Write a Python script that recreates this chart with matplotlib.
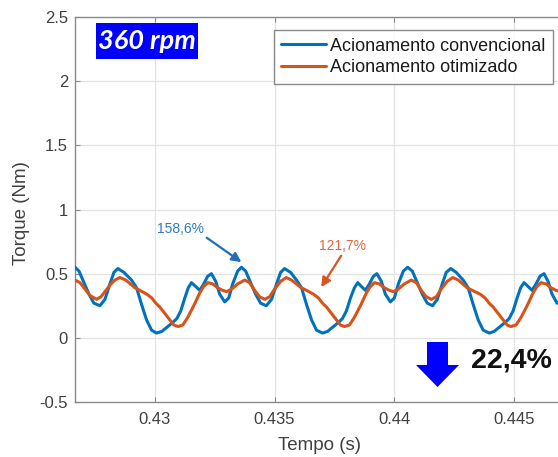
import matplotlib
matplotlib.use("Agg")
import matplotlib.pyplot as plt
from matplotlib.patches import Rectangle, Polygon
from matplotlib.ticker import FixedLocator, FuncFormatter

plt.rcParams['font.family'] = ['Liberation Sans', 'DejaVu Sans']
plt.rcParams['axes.unicode_minus'] = False

# ---------------- data ----------------
t_conv = [0.426667, 0.426833, 0.427042, 0.42725, 0.427458, 0.427708, 0.427917, 0.428125,
          0.428292, 0.428458, 0.428708, 0.429029, 0.429238, 0.429446, 0.429654, 0.429863,
          0.430071, 0.430292, 0.430542, 0.43075, 0.430917, 0.431083, 0.43125, 0.431396,
          0.431529, 0.431708, 0.431875, 0.432042, 0.432208, 0.432363, 0.432542, 0.432708,
          0.432917, 0.433083, 0.43325, 0.433458, 0.433613, 0.433792, 0.434, 0.434208,
          0.434417, 0.434654, 0.434875, 0.435083, 0.43525, 0.435417, 0.435667, 0.435917,
          0.436125, 0.436333, 0.436542, 0.43675, 0.437, 0.437208, 0.437458, 0.437667,
          0.437833, 0.438, 0.438167, 0.438333, 0.438471, 0.438625, 0.438792, 0.438958,
          0.439125, 0.439271, 0.439458, 0.439625, 0.439833, 0.44, 0.440167, 0.440375,
          0.440554, 0.44075, 0.440958, 0.441167, 0.441375, 0.441596, 0.441792, 0.442,
          0.442167, 0.442354, 0.442583, 0.442875, 0.443083, 0.443292, 0.4435, 0.443708,
          0.443958, 0.444167, 0.444417, 0.444625, 0.444792, 0.444958, 0.445125, 0.445271,
          0.445417, 0.445583, 0.44575, 0.445917, 0.446083, 0.44625, 0.446417, 0.446583,
          0.446792, 0.446958, 0.447083]
torque_conv = [0.55, 0.52, 0.43, 0.34, 0.27, 0.25, 0.30, 0.42,
               0.51, 0.54, 0.51, 0.45, 0.39, 0.26, 0.14, 0.06,
               0.037, 0.05, 0.088, 0.12, 0.15, 0.21, 0.31, 0.39,
               0.43, 0.40, 0.37, 0.42, 0.48, 0.50, 0.44, 0.34,
               0.28, 0.31, 0.42, 0.52, 0.55, 0.52, 0.43, 0.34,
               0.27, 0.25, 0.30, 0.42, 0.51, 0.54, 0.51, 0.45,
               0.39, 0.26, 0.14, 0.06, 0.037, 0.05, 0.088, 0.12,
               0.15, 0.21, 0.31, 0.39, 0.43, 0.40, 0.37, 0.42,
               0.48, 0.50, 0.44, 0.34, 0.28, 0.31, 0.42, 0.52,
               0.55, 0.52, 0.43, 0.34, 0.27, 0.25, 0.30, 0.42,
               0.51, 0.54, 0.51, 0.45, 0.39, 0.26, 0.14, 0.06,
               0.037, 0.05, 0.088, 0.12, 0.15, 0.21, 0.31, 0.39,
               0.43, 0.40, 0.37, 0.42, 0.48, 0.50, 0.44, 0.34,
               0.27, 0.29, 0.35]

t_otim = [0.426667, 0.426875, 0.427083, 0.427292, 0.427571, 0.42775, 0.427958, 0.428167,
          0.428333, 0.428542, 0.428792, 0.429167, 0.429375, 0.429667, 0.429875, 0.430042,
          0.430208, 0.430417, 0.430625, 0.430792, 0.430971, 0.431167, 0.431375, 0.431625,
          0.431875, 0.432042, 0.432221, 0.432417, 0.432625, 0.432833, 0.433, 0.433208,
          0.433458, 0.43375, 0.433958, 0.434167, 0.434375, 0.434583, 0.434792, 0.435,
          0.43525, 0.435488, 0.435708, 0.436113, 0.436333, 0.436625, 0.436833, 0.437,
          0.437167, 0.437375, 0.437583, 0.43775, 0.437917, 0.438125, 0.438333, 0.438583,
          0.438833, 0.439, 0.439167, 0.439375, 0.439583, 0.439792, 0.439958, 0.440167,
          0.440417, 0.440708, 0.440917, 0.441125, 0.441333, 0.441542, 0.44175, 0.441958,
          0.442208, 0.442438, 0.442667, 0.443042, 0.44325, 0.443583, 0.443792, 0.443958,
          0.444125, 0.444333, 0.444542, 0.444708, 0.444863, 0.445083, 0.445292, 0.445542,
          0.445792, 0.445958, 0.446125, 0.446333, 0.446542, 0.44675, 0.446958, 0.447083]
torque_otim = [0.45, 0.43, 0.38, 0.33, 0.30, 0.32, 0.37, 0.42,
               0.45, 0.47, 0.45, 0.39, 0.37, 0.34, 0.31, 0.27,
               0.24, 0.19, 0.14, 0.10, 0.088, 0.10, 0.16, 0.25,
               0.35, 0.40, 0.43, 0.42, 0.39, 0.37, 0.36, 0.38,
               0.42, 0.45, 0.43, 0.37, 0.32, 0.30, 0.32, 0.38,
               0.44, 0.47, 0.45, 0.39, 0.37, 0.34, 0.31, 0.27,
               0.24, 0.19, 0.14, 0.10, 0.088, 0.10, 0.16, 0.25,
               0.35, 0.40, 0.43, 0.42, 0.39, 0.37, 0.36, 0.38,
               0.42, 0.45, 0.43, 0.37, 0.32, 0.30, 0.32, 0.38,
               0.44, 0.47, 0.45, 0.39, 0.37, 0.34, 0.31, 0.27,
               0.24, 0.19, 0.14, 0.10, 0.088, 0.10, 0.16, 0.25,
               0.35, 0.40, 0.43, 0.42, 0.39, 0.37, 0.36, 0.36]

series_labels = ['Acionamento convencional', 'Acionamento otimizado']
x_ticks = [0.43, 0.435, 0.44, 0.445]
y_ticks = [-0.5, 0, 0.5, 1, 1.5, 2, 2.5]
x_limits = (0.426667, 0.447083)
y_limits = (-0.5, 2.5)
speed_label = '360 rpm'
ripple_conv = '158,6%'
ripple_otim = '121,7%'
reduction_label = '22,4%'
# annotation anchor points (time, torque)
ann_conv_text = (0.431083, 0.85)
ann_conv_tail = (0.432167, 0.78)
ann_conv_head = (0.433613, 0.59)
ann_otim_text = (0.437833, 0.717)
ann_otim_tail = (0.43778, 0.64)
ann_otim_head = (0.436946, 0.395)

# ---------------- figure ----------------
W, H = 558, 457
fig = plt.figure(figsize=(W / 100, H / 100), dpi=100)
ax = fig.add_axes([75 / W, 1 - 402 / H, 489 / W, 385 / H])

c_blue = '#0072BD'
c_orange = '#D95319'
ax.plot(t_conv, torque_conv, color=c_blue, lw=2.2, label=series_labels[0],
        solid_joinstyle='round', solid_capstyle='round', zorder=3)
ax.plot(t_otim, torque_otim, color=c_orange, lw=2.2, label=series_labels[1],
        solid_joinstyle='round', solid_capstyle='round', zorder=3)

ax.set_xlim(*x_limits)
ax.set_ylim(*y_limits)
ax.xaxis.set_major_locator(FixedLocator(x_ticks))
ax.yaxis.set_major_locator(FixedLocator(y_ticks))
fmt = FuncFormatter(lambda v, p: '%g' % v)
ax.xaxis.set_major_formatter(fmt)
ax.yaxis.set_major_formatter(fmt)

ax.grid(True, color='#e3e3e3', lw=0.9)
ax.set_axisbelow(True)
for s in ax.spines.values():
    s.set_color('#8a8a8a')
    s.set_linewidth(1.0)
ax.tick_params(axis='both', direction='in', length=3.5, width=0.8, color='#8a8a8a',
               labelcolor='#404040', labelsize=12, top=True, right=True)
ax.tick_params(axis='x', pad=7)
ax.tick_params(axis='y', pad=5)

ax.set_xlabel('Tempo (s)', fontsize=13.5, color='#404040')
ax.set_ylabel('Torque (Nm)', fontsize=13.5, color='#404040')
ax.xaxis.label.set_va('center')
ax.yaxis.label.set_va('center')
ax.xaxis.set_label_coords(0.5, (402 - 446) / 385)
ax.yaxis.set_label_coords((22 - 75) / 489, 0.49)

leg = ax.legend(loc='upper right', bbox_to_anchor=((553 - 75) / 489, (402 - 30) / 385),
                fontsize=13, frameon=True, fancybox=False, handlelength=2.45,
                handletextpad=0.25, borderpad=0.42, labelspacing=0.24,
                borderaxespad=0.0)
leg.get_frame().set_edgecolor('#6e6e6e')
leg.get_frame().set_linewidth(1.0)
for txt in leg.get_texts():
    txt.set_color('#1a1a1a')

# speed label box
ax.add_patch(Rectangle(((96 - 75) / 489, (402 - 59) / 385), 102 / 489, 36 / 385,
                       transform=ax.transAxes, facecolor='#0000FF', edgecolor='none', zorder=5))
ax.text((147 - 75) / 489, (402 - 41) / 385, speed_label, transform=ax.transAxes,
        ha='center', va='center', color='white', fontsize=19.5, fontweight='bold',
        fontstyle='italic', family=['Lato', 'DejaVu Sans'], zorder=6)

# ripple annotations
ax.annotate('', xy=ann_conv_head, xytext=ann_conv_tail,
            arrowprops=dict(arrowstyle='-|>', color='#1F6FB5', lw=1.6, mutation_scale=14,
                            shrinkA=0, shrinkB=0), zorder=6)
ax.text(*ann_conv_text, ripple_conv, ha='center', va='center', color='#2E7BC4', fontsize=10)
ax.annotate('', xy=ann_otim_head, xytext=ann_otim_tail,
            arrowprops=dict(arrowstyle='-|>', color='#D9541E', lw=1.6, mutation_scale=14,
                            shrinkA=0, shrinkB=0), zorder=6)
ax.text(*ann_otim_text, ripple_otim, ha='center', va='center', color='#E0673A', fontsize=10)

# reduction arrow and label
def ap(x, y):
    return ((x - 75) / 489, (402 - y) / 385)
arrow_pts = [ap(427, 342), ap(448, 342), ap(448, 365), ap(459, 365), ap(437.5, 387),
             ap(416, 365), ap(427, 365)]
ax.add_patch(Polygon(arrow_pts, closed=True, transform=ax.transAxes,
                     facecolor='#0000FF', edgecolor='none', zorder=6))
ax.text(*ap(511, 361), reduction_label, transform=ax.transAxes, ha='center', va='center',
        fontsize=20.5, fontweight='bold', color='#111111', zorder=6)

fig.savefig('out.png', dpi=100)
